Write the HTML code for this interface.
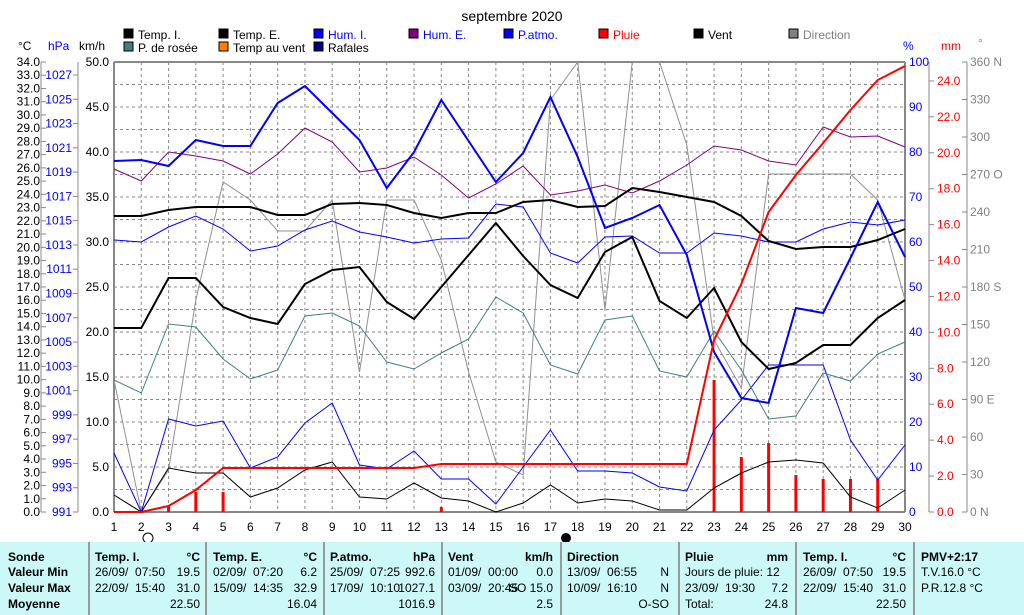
<!DOCTYPE html><html><head><meta charset="utf-8"><style>
body{margin:0;background:#fff;width:1024px;height:615px;overflow:hidden;font-family:"Liberation Sans",sans-serif}
svg text{font-family:"Liberation Sans",sans-serif;font-size:12px}
.tb{position:absolute;left:0;top:542px;width:1024px;height:73px;background:#ccf8f8;font-size:12px}
.c{position:absolute;top:0;height:73px;border-left:2px solid #999}
.r{position:absolute;white-space:pre}
</style></head><body>
<svg id="s" width="1024" height="542" style="position:absolute;left:0;top:0"></svg>
<div class="tb" id="tb"></div>
<script>
const S=document.getElementById('s');let h='';
const X=d=>114+(d-1)*27.276;
h+='<text x="512" y="21" text-anchor="middle" font-size="14" style="font-size:14px">septembre 2020</text>';
// legend
const L=[[123,38,'#000','Temp. I.','#000'],[218,38,'#000','Temp. E.','#000'],[313,38,'#00f','Hum. I.','#00f'],[408,38,'#800080','Hum. E.','#00f'],[503,38,'#00f','P.atmo.','#00f'],[598,38,'#f00','Pluie','#f00'],[693,38,'#000','Vent','#000'],[788,38,'#808080','Direction','#808080'],[123,51,'#408080','P. de rosée','#000'],[218,51,'#ff8000','Temp au vent','#000'],[313,51,'#000080','Rafales','#000']];
L.forEach(l=>{h+=`<rect x="${l[0]+1}" y="${l[1]-9}" width="9" height="9" fill="${l[2]}" stroke="#000"/><text x="${l[0]+15}" y="${l[1]+1}" fill="${l[4]}">${l[3]}</text>`});
// units
h+='<text x="18" y="50">°C</text><text x="48" y="50" fill="#00f">hPa</text><text x="79" y="50">km/h</text><text x="903" y="50" fill="#00f">%</text><text x="941" y="50" fill="#f00">mm</text><text x="978" y="47" fill="#808080">°</text>';
// grid
for(let i=0;i<=20;i++){let y=62+i*22.5;h+=`<line x1="114" x2="905" y1="${y}" y2="${y}" stroke="#888" stroke-dasharray="3,3"/>`}
for(let d=2;d<30;d++)h+=`<line x1="${X(d)}" x2="${X(d)}" y1="62" y2="512" stroke="#888" stroke-dasharray="3,3"/>`;
h+='<line x1="114" x2="114" y1="62" y2="512" stroke="#888" stroke-width="2"/><line x1="905" x2="905" y1="62" y2="512" stroke="#888" stroke-width="2"/><line x1="114" x2="905" y1="62" y2="62" stroke="#888" stroke-width="2"/><line x1="114" x2="905" y1="512" y2="512" stroke="#888" stroke-width="2"/>';
// left axes
for(let c=0;c<=34;c++){let y=512-c*450/34;h+=`<text x="40" y="${y+4}" text-anchor="end">${c.toFixed(1)}</text><line x1="41" x2="46" y1="${y}" y2="${y}" stroke="#888"/>`}
h+='<line x1="41" x2="41" y1="62" y2="512" stroke="#888"/>';
for(let p=991;p<=1027;p+=2){let y=512-(p-991)*437/36;h+=`<text x="72" y="${y+4}" text-anchor="end" fill="#00f">${p}</text><line x1="73" x2="78" y1="${y}" y2="${y}" stroke="#888"/>`}
h+='<line x1="78" x2="78" y1="62" y2="512" stroke="#888"/>';
for(let k=0;k<=10;k++){let y=512-k*45;h+=`<text x="109" y="${y+4}" text-anchor="end">${(k*5).toFixed(1)}</text>`}
// right axes
for(let k=0;k<=10;k++){let y=512-k*45;h+=`<text x="909" y="${y+4}" fill="#00f">${k*10}</text>`}
for(let m=0;m<=24;m+=2){let y=512-m*17.96;h+=`<line x1="934" x2="934" y1="${y}" y2="${y-0}" stroke="#888"/><line x1="929" x2="934" y1="${y}" y2="${y}" stroke="#888"/><text x="937" y="${y+4}" fill="#f00">${m.toFixed(1)}</text>`}
h+='<line x1="929" x2="929" y1="62" y2="512" stroke="#888"/><line x1="967" x2="967" y1="62" y2="512" stroke="#888"/>';
const dn={0:'N',90:'E',180:'S',270:'O',360:'N'};
for(let a=0;a<=360;a+=30){let y=512-a*450/360;h+=`<line x1="962" x2="967" y1="${y}" y2="${y}" stroke="#888"/><text x="970" y="${y+4}" fill="#808080">${a}${dn[a]!==undefined?'  '+dn[a]:''}</text>`}
for(let d=1;d<=30;d++)h+=`<text x="${X(d)}" y="531" text-anchor="middle">${d}</text>`;
h+='<circle cx="148" cy="538" r="5" fill="none" stroke="#000"/><circle cx="566" cy="538" r="5" fill="#000"/>';
// rain bars
[[3,506],[4,492],[5,492],[13,507],[23,380],[24,457],[25,443],[26,475],[27,479],[28,479],[29,479]].forEach(b=>h+=`<rect x="${X(b[0])-1.5}" y="${b[1]}" width="3" height="${512-b[1]}" fill="#f00"/>`);
function P(a,c,w){h+=`<polyline fill="none" stroke="${c}" stroke-width="${w}" points="${a.map((y,i)=>X(i+1)+','+y).join(' ')}"/>`}
P([380,512,470,300,182,200,231,231,200,372,200,200,260,372,462,475,100,62,310,62,62,145,340,388,174,174,174,174,200,300],'#909090',1);
P([453,512,419,426,421,468,457,423,403,465,469,451,479,479,504,467,430,471,471,473,487,491,430,400,365,365,365,440,480,445],'#00f',1);
P([495,512,468,473,473,497,488,470,462,497,499,483,498,501,512,503,485,503,499,501,510,510,488,473,462,460,463,497,508,490],'#000',1);
P([380,393,324,327,359,379,370,316,313,326,362,369,353,339,297,313,365,374,320,316,371,377,331,370,419,416,373,381,354,342],'#408080',1);
P([240,242,227,216,229,251,246,230,221,232,237,243,239,238,204,207,253,263,237,236,253,253,233,236,242,242,229,222,225,220],'#00f',1);
P([169,181,152,156,161,174,154,128,142,172,168,157,175,198,184,166,195,191,185,193,181,165,146,150,161,165,127,137,136,147],'#800080',1);
P([328,328,278,278,307,318,324,284,270,267,302,319,287,255,223,256,285,298,252,237,301,318,288,342,369,363,345,345,318,300],'#000',2);
P([216,216,210,207,207,207,215,215,204,203,205,213,218,213,213,202,200,207,206,188,192,197,202,216,241,249,247,247,240,229],'#000',2);
P([161,160,166,140,146,146,103,86,113,140,188,152,100,141,182,153,97,157,228,218,205,255,352,398,403,308,313,258,202,257],'#00f',2);
P([512,512,506,490,468,468,468,468,468,468,468,468,464,464,464,464,464,464,464,464,464,464,340,284,212,175,143,110,80,66],'#f00',2);
S.innerHTML=h;
// table
const T=document.getElementById('tb');let t='';
[88,205,323,441,560,678,795,913].forEach(x=>t+=`<div class="c" style="left:${x}px"></div>`);
const Y=[8,23,39,55];
function R(x,y,s,b,al){t+=`<div class="r" style="${al?'right:'+(1024-x)+'px':'left:'+x+'px'};top:${Y[y]}px;${b?'font-weight:bold':''}">${s}</div>`}
['Sonde','Valeur Min','Valeur Max','Moyenne'].forEach((s,i)=>R(8,i,s,1));
const cols=[[95,200,'Temp. I.','°C',['26/09/  07:50','19.5'],['22/09/  15:40','31.0'],'22.50'],
[213,317,'Temp. E.','°C',['02/09/  07:20','6.2'],['15/09/  14:35','32.9'],'16.04'],
[330,435,'P.atmo.','hPa',['25/09/  07:25','992.6'],['17/09/  10:10','1027.1'],'1016.9'],
[448,553,'Vent','km/h',['01/09/  00:00','0.0'],['03/09/  20:45','SO 15.0'],'2.5'],
[567,669,'Direction','',['13/09/  06:55','N'],['10/09/  16:10','N'],'O-SO'],
[685,788,'Pluie','mm',['Jours de pluie: 12',''],['23/09/  19:30','7.2'],'24.8'],
[803,906,'Temp. I.','°C',['26/09/  07:50','19.5'],['22/09/  15:40','31.0'],'22.50']];
cols.forEach(c=>{R(c[0],0,c[2],1);R(c[1],0,c[3],1,1);R(c[0],1,c[4][0]);R(c[1],1,c[4][1],0,1);R(c[0],2,c[5][0]);R(c[1],2,c[5][1],0,1);R(c[1],3,c[6],0,1)});
R(685,3,'Total:');
R(921,0,'PMV+2:17',1);R(921,1,'T.V.16.0 °C');R(921,2,'P.R.12.8 °C');
T.innerHTML=t;
</script></body></html>
